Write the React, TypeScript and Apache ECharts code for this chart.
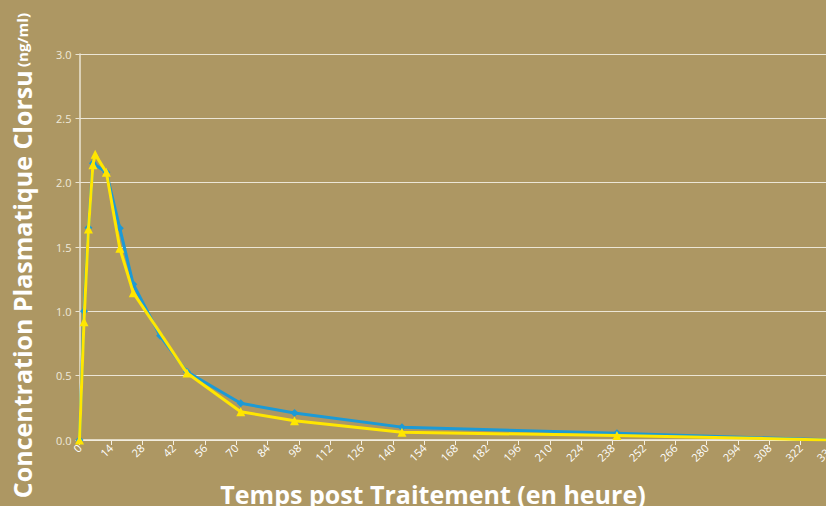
import React, { useEffect, useRef } from "react";
import * as echarts from "echarts";

// Hours after treatment
const times = [0, 2, 4, 6, 7, 12, 18, 24, 36, 48, 72, 96, 144, 240, 336];
// Plasma concentration (ng/ml)
const blueValues = [0, 1.0, 1.65, 2.15, null, 2.08, 1.645, 1.21, 0.81, 0.53, 0.285, 0.21, 0.1, 0.052, 0.0];
const yellowValues = [0, 0.92, 1.64, 2.14, 2.22, 2.08, 1.49, 1.145, null, 0.52, 0.22, 0.15, 0.06, 0.035, 0.0];

const xTitle = "Temps post Traitement (en heure)";
const yTitleMain = "Concentration Plasmatique Clorsu";
const yTitleUnit = "(ng/ml)";

const BG = "#ad9763";
const BLUE = "#1c9ad6";
const YELLOW = "#ffe600";

function pairs(vals: (number | null)[]) {
  return times.map((t, i) => [t, vals[i]]);
}

export default function App() {
  const ref = useRef<HTMLDivElement>(null);
  useEffect(() => {
    document.body.style.margin = "0";
    if (!ref.current) return;
    const chart = echarts.init(ref.current, null, { renderer: "svg" });
    chart.setOption({
      animation: false,
      backgroundColor: BG,
      grid: {
        left: 79.5,
        top: 54,
        width: 752.4,
        height: 386,
        containLabel: false,
        outerBoundsMode: "none",
      },
      xAxis: {
        type: "value",
        min: 0,
        max: 336,
        interval: 14,
        axisLine: { show: true, lineStyle: { color: "#f4efe2", width: 1.5 } },
        axisTick: { show: true, length: 5, lineStyle: { color: "#f4efe2", width: 1 } },
        splitLine: { show: false },
        axisLabel: {
          rotate: 45,
          color: "#ffffff",
          fontSize: 11,
          fontFamily: "Open Sans",
          margin: 6,
          hideOverlap: false,
        },
      },
      yAxis: {
        type: "value",
        min: 0,
        max: 3,
        interval: 0.5,
        axisLine: { show: true, lineStyle: { color: "#ebe4d3", width: 1.5 } },
        axisTick: { show: true, length: 4, lineStyle: { color: "#ebe4d3" } },
        splitLine: { show: true, lineStyle: { color: "#ece6d6", width: 1.2 } },
        axisLabel: {
          color: "#efe9da",
          fontSize: 11,
          fontFamily: "Open Sans",
          margin: 8,
          formatter: (v: number) => v.toFixed(1),
        },
      },
      series: [
        {
          type: "line",
          data: pairs(blueValues),
          connectNulls: true,
          symbol: "diamond",
          symbolSize: 8,
          showAllSymbol: true,
          lineStyle: { color: BLUE, width: 3 },
          itemStyle: { color: BLUE },
          z: 2,
        },
        {
          type: "line",
          data: pairs(yellowValues),
          connectNulls: true,
          symbol: "triangle",
          symbolSize: 9,
          showAllSymbol: true,
          lineStyle: { color: YELLOW, width: 3 },
          itemStyle: { color: YELLOW },
          z: 3,
        },
      ],
      graphic: [
        {
          type: "text",
          x: 433,
          y: 494,
          style: {
            text: xTitle,
            fill: "#ffffff",
            font: "bold 25px 'Open Sans'",
            textAlign: "center",
            textVerticalAlign: "middle",
          },
        },
        {
          type: "text",
          x: 22,
          y: 13,
          rotation: Math.PI / 2,
          style: {
            text: "{a|" + yTitleMain + "} {b|" + yTitleUnit + "}",
            fill: "#ffffff",
            textAlign: "right",
            textVerticalAlign: "middle",
            rich: {
              a: { fontFamily: "Open Sans", fontWeight: "bold", fontSize: 25, fill: "#ffffff" },
              b: { fontFamily: "Open Sans", fontWeight: "bold", fontSize: 15, fill: "#ffffff" },
            },
          },
        },
      ],
    });
    return () => chart.dispose();
  }, []);
  return (
    <div
      ref={ref}
      style={{ position: "fixed", left: 0, top: 0, width: 826, height: 506 }}
    />
  );
}
